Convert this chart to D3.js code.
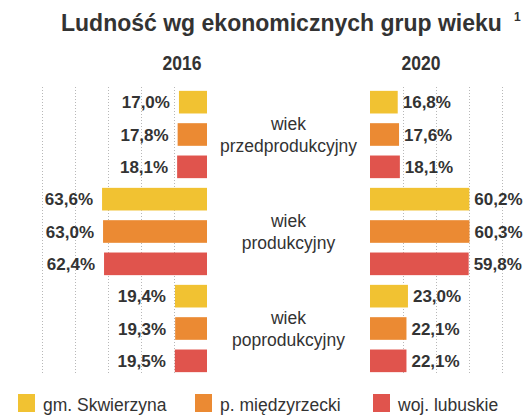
<!DOCTYPE html>
<html>
<head>
    <meta charset="utf-8">
    <title>Ludność wg ekonomicznych grup wieku</title>
    <script src="https://cdnjs.cloudflare.com/ajax/libs/d3/7.8.5/d3.min.js"></script>
    <style>
        body {
            background: #ffffff;
            margin: 0;
            overflow: hidden;
            font-family: "Liberation Sans", Arial, sans-serif;
        }
        .grid line {
            stroke: #b8b8b8;
            stroke-width: 1px;
            stroke-dasharray: 1,2;
        }
        .value {
            fill: #333;
            font-size: 17px;
            font-weight: bold;
        }
        .cat {
            fill: #333;
            font-size: 17.5px;
        }
        .year {
            fill: #333;
            font-size: 21px;
            font-weight: bold;
        }
    </style>
</head>
<body>
    <svg id="chart"></svg>

    <script>
        // data
        const groups = [["wiek", "przedprodukcyjny"], ["wiek", "produkcyjny"], ["wiek", "poprodukcyjny"]];
        const series = ["gm. Skwierzyna", "p. międzyrzecki", "woj. lubuskie"];
        const colors = ["#f1c232", "#eb8a33", "#e0544d"];
        const years = ["2016", "2020"];
        const values2016 = [[17.0, 17.8, 18.1], [63.6, 63.0, 62.4], [19.4, 19.3, 19.5]];
        const values2020 = [[16.8, 17.6, 18.1], [60.2, 60.3, 59.8], [23.0, 22.1, 22.1]];
        const gridTicks = [20, 40, 60, 80, 100];

        const width = 531, height = 419;
        const svg = d3.select("#chart").attr("width", width).attr("height", height);

        // flatten into rows: group x series
        const rows = [];
        groups.forEach((g, gi) => series.forEach((s, si) => {
            rows.push({key: gi + "-" + si, group: gi, series: si, v2016: values2016[gi][si], v2020: values2020[gi][si]});
        }));

        const y = d3.scaleBand()
            .domain(rows.map(d => d.key))
            .range([86, 377])
            .paddingInner(0.3)
            .paddingOuter(0.15);

        const xLeft = d3.scaleLinear().domain([0, 100]).range([207, 42]);
        const xRight = d3.scaleLinear().domain([0, 100]).range([370, 535]);

        const fmt = v => d3.format(".1f")(v).replace(".", ",") + "%";

        // gridlines
        const gridTop = 87, gridBottom = 374;
        [xLeft, xRight].forEach(x => {
            svg.append("g").attr("class", "grid")
                .selectAll("line")
                .data(gridTicks)
                .enter().append("line")
                .attr("x1", d => Math.round(x(d)) + 0.5)
                .attr("x2", d => Math.round(x(d)) + 0.5)
                .attr("y1", gridTop)
                .attr("y2", gridBottom);
        });

        // left bars (2016)
        svg.append("g").selectAll("rect")
            .data(rows)
            .enter().append("rect")
            .attr("x", d => xLeft(d.v2016))
            .attr("y", d => y(d.key))
            .attr("width", d => xLeft(0) - xLeft(d.v2016))
            .attr("height", y.bandwidth())
            .attr("fill", d => colors[d.series]);

        svg.append("g").selectAll("text")
            .data(rows)
            .enter().append("text")
            .attr("class", "value")
            .attr("x", d => xLeft(d.v2016) - 9)
            .attr("y", d => y(d.key) + y.bandwidth() / 2)
            .attr("dy", "0.36em")
            .attr("text-anchor", "end")
            .text(d => fmt(d.v2016));

        // right bars (2020)
        svg.append("g").selectAll("rect")
            .data(rows)
            .enter().append("rect")
            .attr("x", xRight(0))
            .attr("y", d => y(d.key))
            .attr("width", d => xRight(d.v2020) - xRight(0))
            .attr("height", y.bandwidth())
            .attr("fill", d => colors[d.series]);

        svg.append("g").selectAll("text")
            .data(rows)
            .enter().append("text")
            .attr("class", "value")
            .attr("x", d => xRight(d.v2020) + 5)
            .attr("y", d => y(d.key) + y.bandwidth() / 2)
            .attr("dy", "0.36em")
            .text(d => fmt(d.v2020));

        // category labels in the middle
        const midX = (xLeft(0) + xRight(0)) / 2;
        groups.forEach((g, gi) => {
            const c = y(gi + "-1") + y.bandwidth() / 2;
            svg.append("text")
                .attr("class", "cat")
                .attr("text-anchor", "middle")
                .attr("x", midX)
                .attr("y", c - 11)
                .attr("dy", "0.36em")
                .text(g[0]);
            svg.append("text")
                .attr("class", "cat")
                .attr("text-anchor", "middle")
                .attr("x", midX)
                .attr("y", c + 11)
                .attr("dy", "0.36em")
                .text(g[1]);
        });

        // title
        const title = svg.append("text")
            .attr("x", 61)
            .attr("y", 31)
            .style("font-size", "23px")
            .style("font-weight", "bold")
            .style("fill", "#333")
            .text("Ludność wg ekonomicznych grup wieku");
        title.append("tspan")
            .attr("dx", 12)
            .attr("dy", -10)
            .style("font-size", "12px")
            .text("1");

        // years (narrow bold face in the original)
        [[years[0], 182], [years[1], 421]].forEach(([t, cx]) => {
            svg.append("text").attr("class", "year")
                .attr("x", cx - 19.5).attr("y", 70)
                .attr("textLength", 39)
                .attr("lengthAdjust", "spacingAndGlyphs")
                .text(t);
        });

        // legend
        const legendX = [18, 195, 373];
        const legend = svg.append("g").selectAll("g")
            .data(series)
            .enter().append("g")
            .attr("transform", (d, i) => `translate(${legendX[i]},394)`);
        legend.append("rect")
            .attr("width", 17)
            .attr("height", 18)
            .attr("fill", (d, i) => colors[i]);
        legend.append("text")
            .attr("class", "cat")
            .attr("x", 25)
            .attr("y", 17)
            .text(d => d);
    </script>
</body>
</html>
